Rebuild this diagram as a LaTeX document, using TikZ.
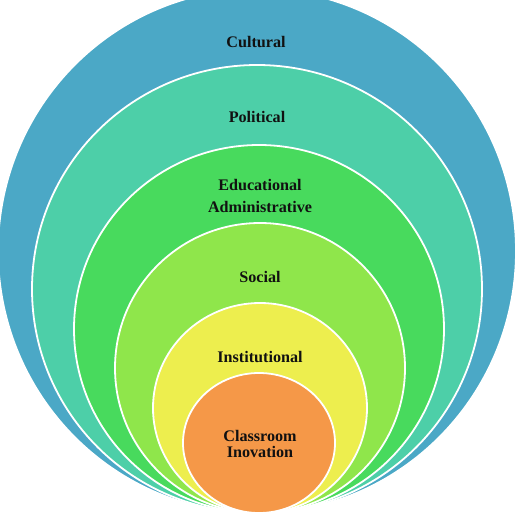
\documentclass[tikz,border=0pt]{standalone}
\usepackage{fontspec}
\setmainfont{Liberation Serif}
\definecolor{cCult}{RGB}{75,168,198}
\definecolor{cPol}{RGB}{77,207,168}
\definecolor{cEdu}{RGB}{72,218,93}
\definecolor{cSoc}{RGB}{143,230,75}
\definecolor{cInst}{RGB}{237,238,78}
\definecolor{cClass}{RGB}{245,152,72}
\definecolor{cTxt}{RGB}{17,17,17}
\tikzset{
  layer/.style={fill=#1, draw=white, line width=1.8bp},
  lbl/.style={font=\bfseries\fontsize{16.2}{23}\selectfont, text=cTxt, align=center, inner sep=0pt},
  lbltight/.style={lbl, font=\bfseries\fontsize{16.2}{16.5}\selectfont}
}
\begin{document}
\begin{tikzpicture}[x=1bp,y=-1bp]
\useasboundingbox (0,0) rectangle (516,520);
\clip (0,0) rectangle (516,520);
\fill[white] (0,0) rectangle (516,520);
\path[layer=cCult]  (257,251) ellipse [x radius=259bp, y radius=262bp];
\path[layer=cPol]   (257,289) ellipse [x radius=225bp, y radius=224bp];
\path[layer=cEdu]   (259,329) ellipse [x radius=185bp, y radius=184bp];
\path[layer=cSoc]   (260,368) ellipse [x radius=145bp, y radius=145bp];
\path[layer=cInst]  (260,408) ellipse [x radius=107bp, y radius=105bp];
\path[layer=cClass] (259,443) ellipse [x radius=76bp, y radius=70bp];
\node[lbl] (cult) at (256,42) {Cultural};
\node[lbl] (pol) at (257,117) {Political};
\node[lbl] (edu) at (260,196) {Educational\\Administrative};
\node[lbl] (soc) at (260,277) {Social};
\node[lbl] (inst) at (260,357) {Institutional};
\node[lbltight] (cls) at (260,444) {Classroom\\Inovation};
\end{tikzpicture}
\end{document}
